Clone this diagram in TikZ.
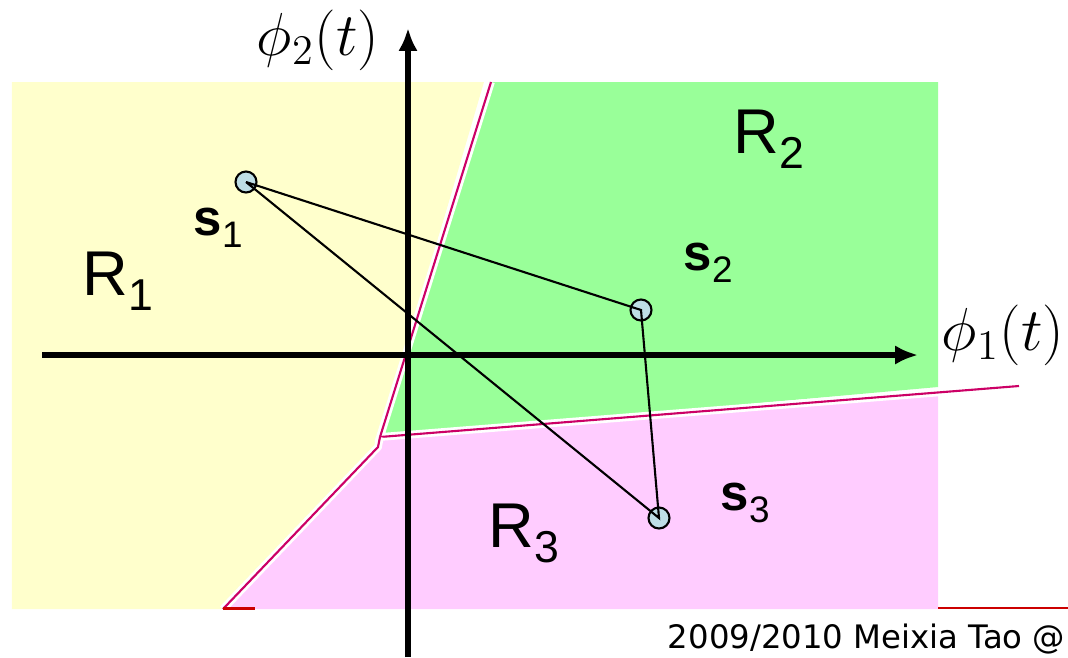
\documentclass[tikz,border=0pt]{standalone}
\usepackage{fontspec}
\newfontfamily\labelfont{Liberation Sans}
\newfontfamily\notefont{DejaVu Sans}
\usepackage{amsmath}
\usetikzlibrary{arrows.meta}
\definecolor{regyellow}{RGB}{255,255,204}
\definecolor{reggreen}{RGB}{153,255,153}
\definecolor{regpink}{RGB}{255,204,255}
\definecolor{bndmagenta}{RGB}{204,0,102}
\definecolor{bndred}{RGB}{204,0,0}
\definecolor{ptblue}{RGB}{190,222,230}
\newcommand{\lsub}[2]{\raisebox{-.24em}{\fontsize{#1}{#1}\mdseries\selectfont #2}}
\begin{document}
\begin{tikzpicture}[
		pt/.style={circle,draw,line width=0.6pt,fill=ptblue,minimum size=2.1mm,inner sep=0pt},
		reglabel/.style={font=\labelfont\fontsize{18}{20}\selectfont,inner sep=0pt,anchor=base west},
		slabel/.style={font=\labelfont\bfseries\fontsize{14.5}{16}\selectfont,inner sep=0pt,anchor=base west},
		axis/.style={line width=1.6pt,-{Latex[length=6.5pt,width=5.5pt]}},
		bnd/.style={bndmagenta,line width=0.6pt,preaction={draw=white,line width=2.2pt}}]
		\useasboundingbox (0,0) rectangle (10.68,6.57);
		% decision regions
		\fill[regyellow] (0.12,5.75) -- (4.84,5.75) -- (3.80,2.20) -- (3.78,2.10) -- (2.22,0.48) -- (0.12,0.48) -- cycle;
		\fill[reggreen] (4.88,5.75) -- (9.38,5.75) -- (9.38,2.70) -- (3.80,2.20) -- cycle;
		\fill[regpink] (3.80,2.20) -- (9.38,2.64) -- (9.38,0.48) -- (2.24,0.48) -- (3.78,2.10) -- cycle;
		% boundaries
		\draw[bnd] (4.91,5.75) -- (3.80,2.20) -- (10.19,2.71);
		\draw[bnd] (3.80,2.20) -- (3.78,2.10) -- (2.23,0.48);
		\draw[bndred,line width=0.6pt] (2.23,0.485) -- (2.55,0.485);
		\draw[bndred,line width=0.6pt] (9.38,0.49) -- (10.68,0.49);
		% axes
		\draw[axis] (0.42,3.02) -- (9.18,3.02);
		\draw[axis] (4.08,0) -- (4.08,6.29);
		\node (x1) at (10.03,3.22) {\fontsize{17.6}{20}\selectfont $\phi_1(t)$};
		\node (x2) at (3.18,6.17) {\fontsize{17.6}{20}\selectfont $\phi_2(t)$};
		% signal points
		\node[pt] (s1) at (2.46,4.75) {};
		\node[pt] (s2) at (6.41,3.47) {};
		\node[pt] (s3) at (6.59,1.39) {};
		\draw[line width=0.6pt] (s1.center) -- (s2.center) -- (s3.center) -- (s1.center);
		\node[slabel] (s1l) at (1.93,4.22) {s\lsub{10.5}{1}};
		\node[slabel] (s2l) at (6.83,3.87) {s\lsub{10.5}{2}};
		\node[slabel] (s3l) at (7.20,1.47) {s\lsub{10.5}{3}};
		\node[reglabel] (r1) at (0.82,3.62) {R\lsub{12.7}{1}};
		\node[reglabel] (r2) at (7.33,5.04) {R\lsub{12.7}{2}};
		\node[reglabel] (r3) at (4.88,1.10) {R\lsub{12.7}{3}};
		\node[font=\notefont\fontsize{9.2}{11}\selectfont,inner sep=0pt,anchor=base east] (note) at (10.66,0.09) {2009/2010 Meixia Tao @};
	\end{tikzpicture}
\end{document}
